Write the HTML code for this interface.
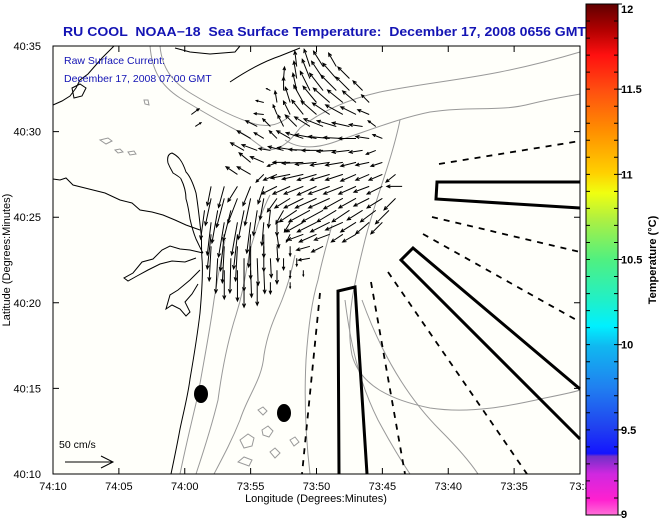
<!DOCTYPE html>
<html><head><meta charset="utf-8"><style>
html,body{margin:0;padding:0;background:#fff;}
svg{display:block;font-family:"Liberation Sans",sans-serif;}
</style></head><body>
<svg id="chart" width="660" height="519" viewBox="0 0 660 519" xmlns="http://www.w3.org/2000/svg">
<rect x="0" y="0" width="660" height="519" fill="#fff"/>
<text xml:space="preserve" style="white-space:pre" x="63" y="36" font-size="12.5" font-weight="bold" fill="#1414b4" textLength="523" lengthAdjust="spacingAndGlyphs">RU COOL  NOAA−18  Sea Surface Temperature:  December 17, 2008 0656 GMT</text>
<rect x="53" y="46" width="527" height="428" fill="#fffffa"/>
<g id="contours" fill="none" stroke="#999" stroke-width="1">
<path d="M150,46 C152,70 160,85 180,98 C200,110 220,122 240,132 C255,140 262,150 270,150 C285,148 292,138 300,128 C320,112 345,100 380,92 C420,84 460,80 500,72 C530,66 560,58 580,52"/>
<path d="M160,46 C162,68 172,82 192,94 C215,108 235,118 255,124 C270,128 280,124 290,116"/>
<path d="M285,140 C300,150 320,148 340,140 C370,130 400,118 430,112 C470,106 500,112 530,104 C555,98 570,96 580,94"/>
<path d="M180,474 C186,445 192,420 198,395 C204,360 210,330 214,300 C218,275 222,255 225,240"/>
<path d="M196,474 C204,450 212,425 218,400 C222,370 228,340 236,315 C244,290 246,270 250,250 C256,230 262,210 270,195"/>
<path d="M214,474 C224,455 232,440 240,420 C248,395 262,380 264,355 C268,330 276,315 282,300 C288,285 292,270 295,255"/>
<path d="M310,474 C306,440 304,400 306,360 C308,330 312,300 318,280 C322,260 328,240 332,225"/>
<path d="M400,120 C392,160 375,200 365,240 C355,280 345,320 352,355 C360,385 390,400 430,408 C470,414 510,406 545,398 C565,394 575,392 580,390"/>
<path d="M345,300 C350,340 358,380 378,420 C392,446 402,462 410,474"/>
<path d="M362,300 C380,350 405,395 440,430 C460,450 470,462 478,474"/>
<path d="M240,440 l8,-6 l6,4 l-2,8 l-8,2 z M262,430 l6,-4 l5,5 l-4,6 l-6,-2 z M238,462 l6,-5 l8,3 l-3,6 z M270,452 l5,-4 l5,5 l-5,5 z M290,440 l5,-3 l4,5 l-5,4 z M258,410 l5,-3 l4,4 l-4,4 z"/>
<path d="M100,140 l8,-2 l4,3 l-6,3 z M115,150 l5,-1 l3,3 l-5,1 z M128,152 l6,-1 l2,3 l-6,1 z M144,100 l4,0 l1,5 l-4,-1 z"/>
</g>
<g id="coast" fill="none" stroke="#000" stroke-width="1">
<path d="M171,474 C175,455 178,440 180,429 C184,410 188,395 190,379 C195,350 198,330 200,313 C202,290 203,270 202,259 C201,245 202,238 201,233 C199,215 198,205 196,193 C193,183 190,176 186,172 C182,160 178,156 172,153 C168,154 167,158 168,163 C170,168 172,171 173,173 C178,176 181,178 181,179 C184,185 186,192 186,199 C188,205 189,212 190,219 C192,228 194,234 196,239 C199,245 201,250 203,253"/>
<path d="M53,179 L60,180 L66,178 L73,185 L85,188 L93,190 L105,193 L120,200 L132,203 L140,210 L152,212 L163,215 L175,220 L186,225 L200,230"/>
<path d="M203,253 L190,250 L180,249 L170,246 L162,250 L153,259 L142,262 L133,273 L124,278 L128,281 L137,276 L148,270 L160,264 L172,261 L185,262 L196,258 M200,270 L190,280 L178,290 L170,295 L166,309 L172,305 L180,309 L186,316 L190,312 L185,302 L192,294 L198,284"/>
<path d="M53,105 L62,101 L70,96 L76,88 L80,80 L88,74 L95,66 L102,58 L110,50 L114,46"/>
<path d="M72,88 L80,84 L86,88 L82,96 L74,98 Z"/>
<path d="M230,82 C245,72 262,62 280,56 L300,48"/>
<path d="M175,48 L190,52 L210,54 L235,52 L240,46"/>
</g>
<g id="lines" fill="none" stroke="#000" stroke-width="1.8" stroke-dasharray="6,6">
<path d="M439,164 L580,141"/>
<path d="M432,217 L580,252"/>
<path d="M423,234 L580,322"/>
<path d="M388,272 L527,474"/>
<path d="M371,282 L405,474"/>
<path d="M320,293 L302,474"/>
</g>
<g id="boxes" fill="none" stroke="#000" stroke-width="3">
<path d="M580,182 L437,182 L436,199 L580,208"/>
<path d="M580,389 L413,248 L401,260 L580,439"/>
<path d="M339,474 L338,291 L355,287 L367,474"/>
</g>
<ellipse cx="201" cy="394" rx="7" ry="9" fill="#000"/>
<ellipse cx="284" cy="413" rx="7" ry="9" fill="#000"/>
<g id="arrows"></g>
<text x="64" y="64" font-size="10.5" fill="#1414b4">Raw Surface Current:</text>
<text x="64" y="82" font-size="10.5" fill="#1414b4">December 17, 2008 07:00 GMT</text>
<text x="59" y="448" font-size="10.5" fill="#000">50 cm/s</text>
<g stroke="#000" stroke-width="1" fill="none"><path d="M65,462 L113,462 M101,456 L113,462 L101,468"/></g>
<rect x="53" y="46" width="527" height="428" fill="none" stroke="#000" stroke-width="1"/>
<g id="axes"></g>
<text x="316" y="502" font-size="11" text-anchor="middle" fill="#000">Longitude (Degrees:Minutes)</text>
<text transform="translate(10,260) rotate(-90)" font-size="11" text-anchor="middle" fill="#000">Latitude (Degrees:Minutes)</text>
<defs><linearGradient id="cb" x1="0" y1="1" x2="0" y2="0">
<stop offset="0" stop-color="#ff70d8"/><stop offset="0.03" stop-color="#ff20d0"/><stop offset="0.08" stop-color="#d028e0"/><stop offset="0.115" stop-color="#7030c8"/><stop offset="0.12" stop-color="#1414ff"/>
<stop offset="0.17" stop-color="#2040f0"/><stop offset="0.25" stop-color="#2080f0"/><stop offset="0.33" stop-color="#10b8f0"/><stop offset="0.37" stop-color="#00f0ff"/>
<stop offset="0.42" stop-color="#20f0c8"/><stop offset="0.5" stop-color="#50f080"/><stop offset="0.58" stop-color="#b0f040"/><stop offset="0.63" stop-color="#f0ff10"/>
<stop offset="0.67" stop-color="#ffd000"/><stop offset="0.75" stop-color="#ff9000"/><stop offset="0.83" stop-color="#ff5010"/><stop offset="0.9" stop-color="#ff1010"/><stop offset="0.95" stop-color="#b00000"/><stop offset="1" stop-color="#600000"/>
</linearGradient></defs>
<rect x="586" y="4" width="32" height="511" fill="url(#cb)" stroke="#000" stroke-width="1"/>
<g id="cbticks"></g>
<text transform="translate(656,260) rotate(-90)" font-size="11" font-weight="bold" text-anchor="middle" fill="#000">Temperature (°C)</text>
<script>
// current vectors: each row = [latMinutesAbove40:10, [[lonMinutesFrom74:10, u_cm_s, v_cm_s], ...]]
const vecRows = [
[23.8,[[18.5,-2,16],[19.5,-6,18],[20.5,-10,16],[21.5,-8,14]]],
[23.1,[[17.5,1,12],[18.5,-3,18],[19.5,-8,20],[20.5,-12,18],[21.5,-14,16],[22.5,-12,12]]],
[22.4,[[16.5,-4,2],[17.5,0,14],[18.5,-4,18],[19.5,-10,20],[20.5,-14,18],[21.5,-16,16],[22.5,-14,14],[23.5,-10,10]]],
[21.7,[[16,-8,2],[17,-2,12],[18,-5,16],[19,-10,18],[20,-14,17],[21,-17,15],[22,-16,13],[23,-14,12],[24,-8,8]]],
[21.0,[[10.5,8,6],[16,-10,1],[17,-4,10],[18,-7,14],[19,-12,15],[20,-16,14],[21,-18,12],[22,-18,10],[23,-16,8],[24,-12,5]]],
[20.3,[[10.8,6,4],[15.5,-12,6],[16.5,-8,8],[17.5,-6,12],[18.5,-12,12],[19.5,-16,10],[20.5,-20,8],[21.5,-20,6],[22.5,-18,4],[23.5,-14,2],[24.5,-8,6]]],
[19.6,[[15,-14,8],[16,-10,6],[17,-8,8],[18,-14,8],[19,-18,6],[20,-22,4],[21,-22,2],[22,-20,1],[23,-18,0],[24,-14,2],[25,-10,4]]],
[18.9,[[14.5,-14,8],[15.5,-16,6],[16.5,-12,2],[17.5,-16,4],[18.5,-20,3],[19.5,-22,1],[20.5,-22,0],[21.5,-20,-1],[22.5,-18,-2],[23.5,-14,-2],[24.5,-10,-4]]],
[18.2,[[15,-12,10],[16,-14,6],[17,-10,-4],[18,-18,0],[19,-22,-1],[20,-22,-2],[21,-20,-3],[22,-18,-3],[23,-16,-4],[24,-14,-3],[25,-12,-4]]],
[17.5,[[14,-12,8],[15,-14,8],[16,-8,-8],[17,-14,-6],[18,-20,-4],[19,-22,-5],[20,-20,-6],[21,-20,-6],[22,-18,-6],[23,-16,-7],[24,-14,-6],[25,-14,-6],[26,-10,-8]]],
[16.8,[[12,-4,-20],[13,-6,-22],[14,-10,-16],[15,-8,-20],[16,-6,-18],[17,-16,-8],[18,-18,-8],[19,-20,-8],[20,-20,-9],[21,-22,-8],[22,-20,-8],[23,-18,-8],[24,-16,-6],[25,-16,-8],[26.5,-16,0]]],
[16.1,[[12,-6,-28],[13,-8,-30],[14,-10,-26],[15,-6,-28],[16,-4,-22],[17,-10,-14],[18,-16,-10],[19,-20,-10],[20,-22,-10],[21,-22,-10],[22,-20,-11],[23,-18,-10],[24,-16,-8],[25,-16,-10],[26,-12,-12]]],
[15.4,[[11.5,-4,-30],[12.5,-6,-34],[13.5,-8,-32],[14.5,-6,-30],[15.5,-4,-26],[16.5,-2,-18],[17.5,-8,-14],[18.5,-18,-12],[19.5,-22,-12],[20.5,-22,-12],[21.5,-20,-12],[22.5,-18,-12],[23.5,-16,-10],[24.5,-16,-12],[25.5,-14,-14]]],
[14.7,[[12,-4,-34],[13,-6,-36],[14,-6,-34],[15,-4,-32],[16,-2,-24],[17,0,-14],[18,-6,-10],[19,-18,-10],[20,-20,-10],[21,-20,-10],[22,-18,-8],[23,-16,-10],[24,-14,-12],[25,-12,-12]]],
[14.0,[[12,-4,-36],[13,-4,-38],[14,-4,-36],[15,-2,-34],[16,0,-24],[17,2,-14],[18,-4,-8],[19,-16,-6],[20,-18,-8],[21,-16,-6],[22,-12,-8],[23,-14,-8]]],
[13.3,[[12,-2,-36],[13,-2,-38],[14,-2,-36],[15,0,-34],[16,0,-26],[17,1,-16],[18,0,-10],[19.5,-14,-4],[20.5,-12,-6]]],
[12.6,[[12.5,-2,-36],[13.5,-1,-36],[14.5,0,-34],[15.5,1,-28],[16.5,1,-20],[17.5,0,-12],[18.5,0,-8],[19.5,-12,-2]]],
[11.9,[[13,0,-30],[14,0,-32],[15,1,-28],[16,1,-24],[17,0,-14],[18,0,-8],[19,0,-6]]],
[11.2,[[14.5,0,-26],[15.5,0,-24],[16.5,0,-12],[18,0,-6]]]
];
const lonTicks = ["74:10","74:05","74:00","73:55","73:50","73:45","73:40","73:35","73:3"];
const latTicks = ["40:10","40:15","40:20","40:25","40:30","40:35"];
const cbValues = [9, 9.5, 10, 10.5, 11, 11.5, 12];
const cbLabels = ["9","9.5","10","10.5","11","11.5","12"];

const NS="http://www.w3.org/2000/svg";
const X0=53,X1=580,Y0=474,Y1=46;
function xScale(m){return X0+m*(X1-X0)/40;}
function yScale(l){return Y0-l*(Y0-Y1)/25;}
function cbY(v){return 515-(v-9)*(511/3);}
const PX_PER_CM=0.96;
function mk(tag,attrs,parent){const e=document.createElementNS(NS,tag);for(const k in attrs)e.setAttribute(k,attrs[k]);parent.appendChild(e);return e;}

const ag=document.getElementById('arrows');
vecRows.forEach(function(row){
  const l=row[0];
  row[1].forEach(function(p){
    const x=xScale(p[0]),y=yScale(l);
    const dx=p[1]*PX_PER_CM,dy=-p[2]*PX_PER_CM;
    const len=Math.hypot(dx,dy)||1;
    const ex=x+dx,ey=y+dy;
    const ux=dx/len,uy=dy/len,h=Math.min(4,len*0.3);
    const a1x=ex-h*(ux*0.9-uy*0.4),a1y=ey-h*(uy*0.9+ux*0.4);
    const a2x=ex-h*(ux*0.9+uy*0.4),a2y=ey-h*(uy*0.9-ux*0.4);
    const el=mk('path',{d:`M${x},${y}L${ex},${ey}M${a1x},${a1y}L${ex},${ey}L${a2x},${a2y}`,stroke:'#000','stroke-width':'1',fill:'none'},ag);
    
    
  });
});

const axg=document.getElementById('axes');
lonTicks.forEach(function(t,i){
  const x=xScale(i*5);
  const tk=mk('path',{d:`M${x},${Y0}V${Y0-6}M${x},${Y1}V${Y1+6}`,stroke:'#000','stroke-width':'1'},axg);
  
  
  const tx=mk('text',{x:x,y:490,'font-size':'11','text-anchor':'middle',fill:'#000'},axg);
  tx.textContent=t;
  
  
});
latTicks.forEach(function(t,i){
  const y=yScale(i*5);
  const tk=mk('path',{d:`M${X0},${y}H${X0+6}M${X1},${y}H${X1-6}`,stroke:'#000','stroke-width':'1'},axg);
  
  
  const tx=mk('text',{x:41,y:y+4,'font-size':'11','text-anchor':'end',fill:'#000'},axg);
  tx.textContent=t;
  
  
});

const cg=document.getElementById('cbticks');
for(let v=9.1;v<12;v+=0.1){
  const y=cbY(v);
  const tk=mk('path',{d:`M586,${y}h4M618,${y}h-4`,stroke:'#000','stroke-width':'1'},cg);
  
  
}
cbValues.forEach(function(v,i){
  const y=cbY(v);
  const tk=mk('path',{d:`M618,${y}h4`,stroke:'#000','stroke-width':'1'},cg);
  
  
  const tx=mk('text',{x:621,y:Math.min(Math.max(y+4,13),518),'font-size':'11','font-weight':'bold',fill:'#000'},cg);
  tx.textContent=cbLabels[i];
  
  
});
</script>
</svg>
</body></html>
